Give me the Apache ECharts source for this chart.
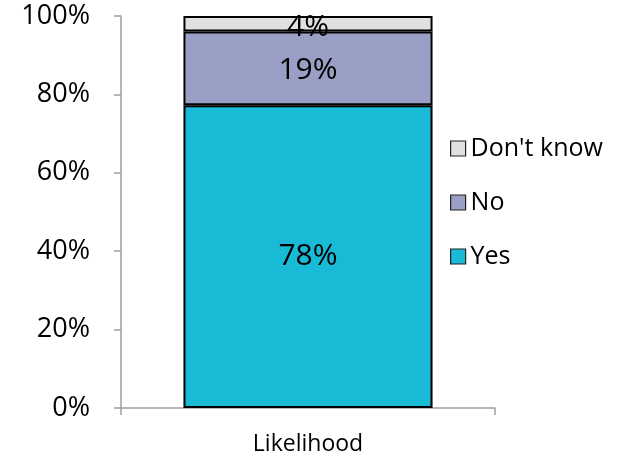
<!DOCTYPE html>
<html>
<head>
<meta charset="utf-8">
<script src="https://cdn.jsdelivr.net/npm/echarts@6/dist/echarts.min.js"></script>
<style>
  html, body { margin: 0; padding: 0; background: #fff; }
  #chart { width: 621px; height: 457px; }
</style>
</head>
<body>
<div id="chart"></div>
<script>
// Survey answers for the single "Likelihood" question (percent of respondents)
const categories = ['Likelihood'];
const yesValues = [78];
const noValues = [19];
const dontKnowValues = [4];
const yTickLabels = ['0%', '20%', '40%', '60%', '80%', '100%'];

// Stacked to 100%: each segment's share of the column total
const totals = categories.map((_, i) => yesValues[i] + noValues[i] + dontKnowValues[i]);
const share = (arr) => arr.map((v, i) => ({ value: v / totals[i] * 100, raw: v }));

const FONT = '"Open Sans", "Noto Sans", sans-serif';
const chart = echarts.init(document.getElementById('chart'));

const seg = (name, arr, color, labelOffset) => ({
  name,
  type: 'bar',
  stack: 'total',
  barWidth: '66.6%',
  data: share(arr),
  itemStyle: { color, borderColor: '#000', borderWidth: 2 },
  label: {
    show: true,
    position: 'inside',
    offset: labelOffset || [0, 0],
    formatter: (p) => p.data.raw + '%',
    color: '#000',
    fontFamily: FONT,
    fontSize: 30
  },
  emphasis: { disabled: true }
});

chart.setOption({
  animation: false,
  backgroundColor: '#fff',
  grid: { left: 121, right: 126, top: 16, bottom: 49 },
  legend: {
    data: ["Don't know", 'No', 'Yes'],
    orient: 'vertical',
    left: 445,
    top: 131,
    icon: 'rect',
    itemWidth: 15,
    itemHeight: 15,
    itemGap: 29,
    textStyle: { fontFamily: FONT, fontSize: 25, color: '#000', padding: [0, 0, 0, 0] },
    itemStyle: { borderColor: '#222', borderWidth: 1.2 },
    selectedMode: false
  },
  xAxis: {
    type: 'category',
    data: categories,
    axisLine: { lineStyle: { color: '#9e9e9e', width: 1.5 } },
    axisTick: { show: true, alignWithLabel: false, length: 7, lineStyle: { color: '#9e9e9e', width: 1.5 } },
    axisLabel: { fontFamily: FONT, fontSize: 23, color: '#000', margin: 25 }
  },
  yAxis: {
    type: 'value',
    min: 0,
    max: 100,
    interval: 20,
    axisLine: { show: true, lineStyle: { color: '#9e9e9e', width: 1.5 } },
    axisTick: { show: true, length: 7, lineStyle: { color: '#9e9e9e', width: 1.5 } },
    splitLine: { show: false },
    axisLabel: {
      fontFamily: FONT,
      fontSize: 27,
      color: '#000',
      margin: 31,
      formatter: (v) => yTickLabels[Math.round(v / 20)]
    }
  },
  series: [
    seg('Yes', yesValues, '#18bad6'),
    seg('No', noValues, '#9a9fc6', [0, 2]),
    seg("Don't know", dontKnowValues, '#e0e0e0', [0, 4])
  ]
});
</script>
</body>
</html>
